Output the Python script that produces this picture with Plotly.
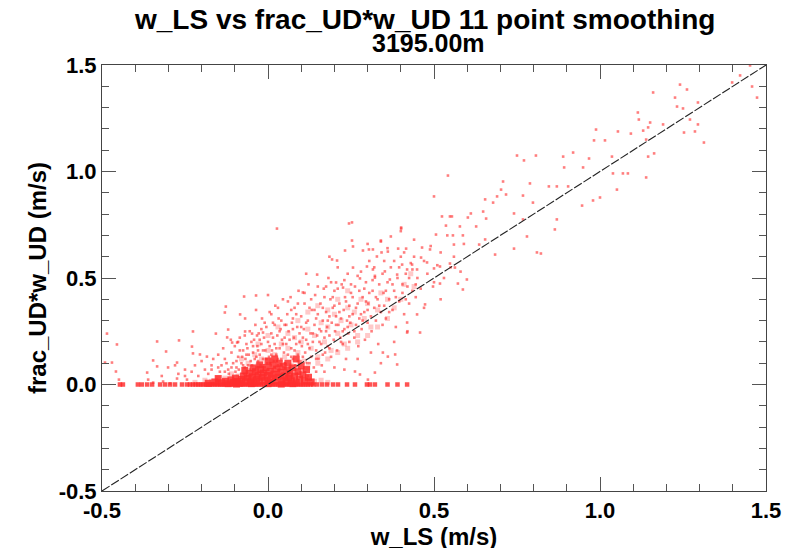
import plotly.graph_objects as go

# ---------------- data ----------------
# points lying on w_UD*frac_UD = 0 (horizontal band)
band_x = [-0.446, -0.437, -0.392, -0.380, -0.364, -0.349, -0.325, -0.310, -0.295, -0.280,
          -0.259, -0.244, -0.235, -0.226, -0.218, -0.210, -0.203, -0.196, -0.188, -0.181,
          -0.174, -0.167, -0.160, -0.153, -0.146, -0.139, -0.132, -0.125, -0.118, -0.111,
          -0.104, -0.097, -0.090, -0.083, -0.076, -0.069, -0.062, -0.055, -0.048, -0.041,
          -0.034, -0.027, -0.020, -0.013, -0.006, 0.001, 0.008, 0.015, 0.022, 0.029,
          0.036, 0.043, 0.050, 0.057, 0.064, 0.071, 0.078, 0.085, 0.092, 0.099,
          0.106, 0.113, 0.120, 0.128, 0.136, 0.148, 0.163, 0.178, 0.196, 0.211,
          0.238, 0.262, 0.298, 0.307, 0.322, 0.360, 0.390, 0.419]

# saturated core just above zero
core_pts = [(-0.14, 0.008), (-0.128, 0.015), (-0.12, 0.004), (-0.112, 0.022), (-0.105, 0.010),
            (-0.098, 0.030), (-0.092, 0.014), (-0.086, 0.006), (-0.080, 0.024), (-0.074, 0.040),
            (-0.068, 0.012), (-0.062, 0.030), (-0.057, 0.052), (-0.052, 0.018), (-0.047, 0.036),
            (-0.042, 0.008), (-0.038, 0.060), (-0.034, 0.026), (-0.030, 0.044), (-0.026, 0.014),
            (-0.022, 0.070), (-0.018, 0.034), (-0.014, 0.054), (-0.010, 0.020), (-0.006, 0.080),
            (-0.002, 0.042), (0.002, 0.010), (0.006, 0.062), (0.010, 0.030), (0.014, 0.090),
            (0.018, 0.048), (0.022, 0.016), (0.026, 0.072), (0.030, 0.036), (0.034, 0.100),
            (0.038, 0.056), (0.042, 0.022), (0.046, 0.084), (0.050, 0.040), (0.054, 0.012),
            (0.058, 0.066), (0.062, 0.030), (0.066, 0.050), (0.070, 0.018), (0.075, 0.078),
            (0.080, 0.040), (0.085, 0.010), (0.090, 0.060), (0.095, 0.026), (0.100, 0.088),
            (0.105, 0.046), (0.110, 0.016), (0.116, 0.070), (0.122, 0.034), (0.130, 0.012),
            (-0.160, 0.012), (-0.180, 0.006), (-0.150, 0.028), (-0.070, 0.066), (-0.045, 0.078),
            (-0.025, 0.092), (0.000, 0.110), (0.020, 0.120), (0.060, 0.100), (0.085, 0.120),
            (-0.050, 0.004), (0.000, 0.004), (0.040, 0.002), (0.075, 0.004), (-0.095, 0.002)]

# moderately dense part of the cloud
dense_pts = [
    (-0.13, 0.03), (-0.11, 0.05), (-0.09, 0.04), (-0.07, 0.07), (-0.05, 0.05), (-0.03, 0.09),
    (-0.01, 0.06), (0.01, 0.11), (0.03, 0.08), (0.05, 0.13), (0.07, 0.09), (0.09, 0.15),
    (0.11, 0.11), (0.13, 0.17), (0.15, 0.13), (0.17, 0.20), (0.19, 0.16), (0.21, 0.24),
    (0.23, 0.19), (0.25, 0.28), (0.27, 0.23), (0.29, 0.31), (0.31, 0.27), (0.33, 0.35),
    (-0.08, 0.12), (-0.06, 0.10), (-0.04, 0.14), (-0.02, 0.12), (0.0, 0.16), (0.02, 0.14),
    (0.04, 0.19), (0.06, 0.17), (0.08, 0.22), (0.10, 0.20), (0.12, 0.26), (0.14, 0.23),
    (0.16, 0.29), (0.18, 0.27), (0.20, 0.33), (0.22, 0.30), (0.24, 0.36), (0.26, 0.34),
    (0.28, 0.40), (0.30, 0.38), (-0.03, 0.19), (0.0, 0.23), (0.03, 0.27), (0.06, 0.24),
    (0.09, 0.30), (0.12, 0.34), (0.15, 0.37), (0.18, 0.35), (0.21, 0.40), (0.24, 0.44),
    (0.06, 0.06), (0.09, 0.08), (0.12, 0.08), (0.15, 0.10), (0.18, 0.12), (0.21, 0.15),
    (0.24, 0.17), (0.27, 0.20), (0.30, 0.23), (0.33, 0.27), (0.36, 0.31), (0.38, 0.36),
    (0.40, 0.40), (0.36, 0.40), (0.34, 0.43), (0.41, 0.47), (0.44, 0.46), (0.43, 0.52),
    (-0.22, 0.01), (-0.19, 0.02), (-0.17, 0.015), (-0.15, 0.03), (0.12, 0.025), (0.14, 0.015),
    (0.16, 0.02), (0.18, 0.01),
]

# scattered cloud of points (w_LS, frac_UD*w_UD)
cloud_pts = [
    (-0.14, 0.09), (-0.13, 0.12), (-0.12, 0.07), (-0.11, 0.15), (-0.105, 0.10), (-0.10, 0.18),
    (-0.095, 0.08), (-0.09, 0.13), (-0.085, 0.22), (-0.08, 0.10), (-0.075, 0.16), (-0.07, 0.08),
    (-0.068, 0.12), (-0.065, 0.19), (-0.06, 0.09), (-0.058, 0.14), (-0.055, 0.25), (-0.052, 0.11),
    (-0.15, 0.14), (-0.145, 0.06), (-0.135, 0.17), (-0.125, 0.10), (-0.118, 0.05), (-0.112, 0.21),
    (-0.098, 0.06), (-0.088, 0.07), (-0.078, 0.13), (-0.072, 0.05), (-0.062, 0.17), (-0.17, 0.09),
    (-0.19, 0.07), (-0.20, 0.11), (-0.18, 0.05), (-0.21, 0.04), (-0.165, 0.12),
    (-0.048, 0.09), (-0.045, 0.15), (-0.042, 0.21), (-0.04, 0.12), (-0.038, 0.28), (-0.035, 0.08),
    (-0.032, 0.18), (-0.03, 0.11), (-0.028, 0.24), (-0.025, 0.14), (-0.022, 0.09), (-0.02, 0.19),
    (-0.018, 0.31), (-0.015, 0.12), (-0.012, 0.22), (-0.01, 0.08), (-0.008, 0.16), (-0.005, 0.27),
    (-0.002, 0.10), (0.0, 0.20), (0.003, 0.13), (0.005, 0.34), (0.008, 0.09), (0.01, 0.24),
    (0.012, 0.16), (0.015, 0.29), (0.018, 0.11), (0.02, 0.19), (0.022, 0.37), (0.025, 0.14),
    (0.028, 0.23), (0.03, 0.09), (0.032, 0.31), (0.035, 0.17), (0.038, 0.26), (0.04, 0.12),
    (0.042, 0.21), (0.045, 0.40), (0.048, 0.15), (0.05, 0.28), (-0.044, 0.06), (-0.026, 0.06),
    (-0.006, 0.06), (0.014, 0.07), (0.034, 0.07), (0.046, 0.08), (-0.036, 0.35), (0.0, 0.42),
    (-0.02, 0.26),
    (0.052, 0.10), (0.055, 0.19), (0.058, 0.33), (0.06, 0.14), (0.062, 0.25), (0.065, 0.08),
    (0.068, 0.41), (0.07, 0.17), (0.072, 0.29), (0.075, 0.12), (0.078, 0.22), (0.08, 0.36),
    (0.082, 0.09), (0.085, 0.19), (0.088, 0.27), (0.09, 0.14), (0.092, 0.44), (0.095, 0.24),
    (0.098, 0.11), (0.10, 0.32), (0.102, 0.18), (0.105, 0.07), (0.108, 0.26), (0.11, 0.38),
    (0.112, 0.15), (0.115, 0.21), (0.118, 0.10), (0.12, 0.30), (0.122, 0.47), (0.125, 0.17),
    (0.128, 0.24), (0.13, 0.13), (0.132, 0.35), (0.135, 0.20), (0.138, 0.08), (0.14, 0.28),
    (0.142, 0.42), (0.145, 0.16), (0.148, 0.23), (0.15, 0.33), (0.06, 0.05), (0.09, 0.05),
    (0.12, 0.04), (0.145, 0.06), (0.075, 0.31), (0.115, 0.52),
    (0.152, 0.12), (0.155, 0.26), (0.158, 0.38), (0.16, 0.19), (0.162, 0.09), (0.165, 0.30),
    (0.168, 0.45), (0.17, 0.22), (0.172, 0.15), (0.175, 0.34), (0.178, 0.27), (0.18, 0.18),
    (0.182, 0.50), (0.185, 0.23), (0.188, 0.40), (0.19, 0.13), (0.192, 0.29), (0.195, 0.36),
    (0.198, 0.21), (0.20, 0.44), (0.202, 0.25), (0.205, 0.32), (0.208, 0.16), (0.21, 0.55),
    (0.212, 0.28), (0.215, 0.38), (0.218, 0.22), (0.22, 0.31), (0.222, 0.47), (0.225, 0.19),
    (0.228, 0.35), (0.23, 0.26), (0.232, 0.41), (0.235, 0.12), (0.238, 0.30), (0.24, 0.52),
    (0.242, 0.24), (0.245, 0.37), (0.248, 0.29), (0.25, 0.43), (0.17, 0.06), (0.20, 0.08),
    (0.23, 0.07), (0.185, 0.60), (0.245, 0.20),
    (0.255, 0.33), (0.26, 0.22), (0.262, 0.46), (0.265, 0.28), (0.27, 0.38), (0.272, 0.18),
    (0.275, 0.31), (0.28, 0.53), (0.282, 0.26), (0.285, 0.41), (0.29, 0.34), (0.292, 0.21),
    (0.295, 0.48), (0.30, 0.29), (0.302, 0.38), (0.305, 0.58), (0.31, 0.32), (0.312, 0.25),
    (0.315, 0.44), (0.32, 0.36), (0.322, 0.51), (0.325, 0.30), (0.33, 0.40), (0.332, 0.19),
    (0.335, 0.47), (0.34, 0.34), (0.342, 0.62), (0.345, 0.28), (0.348, 0.43), (0.35, 0.37),
    (0.27, 0.12), (0.31, 0.15), (0.34, 0.10), (0.30, 0.66),
    (0.355, 0.31), (0.36, 0.48), (0.365, 0.40), (0.37, 0.55), (0.375, 0.35), (0.38, 0.44),
    (0.385, 0.27), (0.39, 0.50), (0.395, 0.39), (0.40, 0.60), (0.405, 0.43), (0.41, 0.33),
    (0.415, 0.52), (0.42, 0.46), (0.425, 0.38), (0.43, 0.57), (0.435, 0.44), (0.44, 0.68),
    (0.445, 0.41), (0.45, 0.50), (0.38, 0.20), (0.42, 0.25), (0.40, 0.72), (0.36, 0.64),
    (0.46, 0.45), (0.47, 0.58), (0.48, 0.52), (0.49, 0.65), (0.50, 0.48), (0.51, 0.56),
    (0.52, 0.62), (0.53, 0.50), (0.54, 0.70), (0.55, 0.55), (0.56, 0.60), (0.58, 0.53),
    (0.59, 0.66), (0.47, 0.36), (0.52, 0.40),
]

# further cloud points filling the speckled region
cloud2_pts = [
    (-0.095, 0.11), (-0.085, 0.16), (-0.075, 0.09), (-0.065, 0.14), (-0.055, 0.07), (-0.045, 0.18),
    (-0.035, 0.13), (-0.025, 0.21), (-0.015, 0.16), (-0.005, 0.12), (-0.09, 0.20), (-0.07, 0.23),
    (-0.05, 0.20), (-0.03, 0.16), (-0.01, 0.29), (-0.11, 0.08), (-0.13, 0.06), (-0.15, 0.08),
    (-0.17, 0.07), (-0.23, 0.06), (-0.25, 0.04), (-0.27, 0.05), (-0.28, 0.09), (-0.32, 0.04),
    (-0.22, 0.09),
    (0.005, 0.18), (0.015, 0.22), (0.025, 0.17), (0.035, 0.25), (0.045, 0.19), (0.055, 0.28),
    (0.065, 0.21), (0.075, 0.26), (0.085, 0.33), (0.095, 0.20), (0.01, 0.33), (0.03, 0.36),
    (0.05, 0.22), (0.07, 0.35), (0.09, 0.38), (0.02, 0.28), (0.04, 0.30), (0.06, 0.39),
    (0.08, 0.16), (0.10, 0.27), (0.01, 0.14), (0.03, 0.12), (0.05, 0.10), (0.07, 0.13),
    (0.09, 0.11),
    (0.105, 0.22), (0.115, 0.29), (0.125, 0.36), (0.135, 0.24), (0.145, 0.31), (0.155, 0.20),
    (0.165, 0.36), (0.175, 0.25), (0.185, 0.32), (0.195, 0.41), (0.11, 0.43), (0.13, 0.40),
    (0.15, 0.46), (0.17, 0.41), (0.19, 0.48), (0.105, 0.13), (0.125, 0.10), (0.145, 0.12),
    (0.165, 0.14), (0.185, 0.17), (0.12, 0.19), (0.14, 0.35), (0.16, 0.25), (0.18, 0.30),
    (0.20, 0.37),
    (0.205, 0.28), (0.215, 0.34), (0.225, 0.25), (0.235, 0.39), (0.245, 0.32), (0.255, 0.41),
    (0.265, 0.36), (0.275, 0.44), (0.285, 0.30), (0.295, 0.39), (0.21, 0.45), (0.23, 0.49),
    (0.25, 0.47), (0.27, 0.51), (0.29, 0.45), (0.22, 0.20), (0.24, 0.27), (0.26, 0.25),
    (0.28, 0.33), (0.30, 0.35),
    (0.305, 0.43), (0.315, 0.49), (0.325, 0.41), (0.335, 0.37), (0.345, 0.52), (0.355, 0.44),
    (0.365, 0.34), (0.375, 0.47), (0.385, 0.41), (0.395, 0.55), (0.405, 0.47), (0.415, 0.40),
    (0.425, 0.50), (0.435, 0.54), (0.445, 0.47), (0.32, 0.55), (0.35, 0.58), (0.38, 0.58),
    (0.41, 0.62), (0.44, 0.60),
]

# sparse outliers
sparse_pts = [
    (1.452, 1.498), (1.422, 1.451), (1.398, 1.418), (1.458, 1.399), (1.473, 1.347), (1.241, 1.408),
    (1.262, 1.385), (1.160, 1.371), (1.226, 1.347), (1.232, 1.305), (1.250, 1.296), (1.295, 1.324),
    (1.114, 1.277), (1.117, 1.244), (1.151, 1.230), (1.130, 1.192), (1.145, 1.207), (1.271, 1.244),
    (1.253, 1.183), (1.286, 1.188), (1.295, 1.221), (1.313, 1.136), (1.190, 1.221), (1.054, 1.188),
    (1.093, 1.178), (0.988, 1.197), (0.982, 1.146), (1.015, 1.146), (1.139, 1.150), (1.163, 1.085),
    (1.145, 1.070), (0.919, 1.089), (0.889, 1.070), (0.967, 1.061), (0.807, 1.075), (0.750, 1.075),
    (0.771, 1.052), (0.892, 1.019), (0.949, 1.019), (1.036, 1.070), (1.039, 0.991), (1.069, 0.991),
    (1.084, 0.991), (1.051, 0.915), (1.139, 0.972), (1.000, 0.878), (0.979, 0.864), (0.946, 0.840),
    (0.846, 0.930), (0.870, 0.930), (0.904, 0.930), (0.870, 0.775), (0.864, 0.728), (0.810, 0.620),
    (0.822, 0.615), (0.708, 0.953), (0.702, 0.915), (0.717, 0.892), (0.789, 0.944), (0.768, 0.887),
    (0.798, 0.854), (0.542, 0.981), (0.500, 0.883), (0.654, 0.869), (0.690, 0.883), (0.678, 0.854),
    (0.648, 0.812), (0.611, 0.803), (0.602, 0.784), (0.548, 0.789), (0.524, 0.789), (0.578, 0.742),
    (0.627, 0.742), (0.657, 0.779), (0.741, 0.803), (0.768, 0.775), (0.780, 0.695), (0.741, 0.638),
    (0.684, 0.610), (0.654, 0.681), (0.636, 0.657), (0.587, 0.700), (0.560, 0.657), (0.536, 0.746),
    (0.506, 0.704), (0.488, 0.634), (0.464, 0.643), (0.461, 0.596), (0.479, 0.573), (0.500, 0.545),
    (0.518, 0.554), (0.548, 0.568), (0.563, 0.549), (0.599, 0.493), (0.587, 0.446), (0.572, 0.474),
    (0.518, 0.474), (0.497, 0.460), (0.401, 0.737), (0.370, 0.695), (0.340, 0.671), (0.316, 0.634),
    (0.286, 0.629), (0.256, 0.549), (0.253, 0.761), (0.027, 0.732), (0.244, 0.756), (0.401, 0.732),
    (0.554, 0.789), (0.253, 0.676), (0.232, 0.629), (0.256, 0.648), (0.304, 0.634), (0.340, 0.676),
    (0.361, 0.624), (0.392, 0.638), (0.416, 0.638), (0.193, 0.587), (0.208, 0.582), (0.328, 0.601),
    (0.148, 0.516), (0.205, 0.479), (0.277, 0.498), (0.298, 0.554), (0.316, 0.540), (0.322, 0.502),
    (0.352, 0.531), (0.367, 0.493), (0.389, 0.516), (0.404, 0.563), (0.419, 0.540), (0.434, 0.563),
    (0.449, 0.540), (0.557, 0.700), (0.175, 0.460), (0.226, 0.455), (0.105, 0.432),
    (0.346, 0.150), (0.361, 0.131), (0.389, 0.094), (0.301, 0.023), (0.322, 0.056), (0.383, 0.141),
    (0.419, 0.244), (0.449, 0.329), (0.473, 0.376), (0.419, 0.291), (0.458, 0.244), (0.277, 0.047),
    (0.262, 0.061),
    (-0.072, 0.413), (-0.036, 0.418), (-0.127, 0.366), (-0.130, 0.338), (-0.084, 0.329),
    (-0.069, 0.310), (-0.485, 0.239), (-0.455, 0.188), (-0.334, 0.202), (-0.268, 0.207),
    (-0.226, 0.249), (-0.157, 0.239), (-0.120, 0.258), (-0.123, 0.221), (-0.069, 0.249),
    (-0.048, 0.239), (-0.033, 0.230), (-0.015, 0.244), (-0.108, 0.197), (-0.093, 0.197),
    (-0.307, 0.155), (-0.229, 0.178), (-0.226, 0.146), (-0.205, 0.141), (-0.184, 0.131),
    (-0.346, 0.113), (-0.274, 0.103), (-0.250, 0.070), (-0.301, 0.080), (-0.334, 0.085),
    (-0.364, 0.056), (-0.361, 0.023), (-0.449, 0.023), (-0.458, 0.061), (-0.470, 0.103),
    (-0.491, 0.103), (-0.346, 0.009), (-0.316, 0.014), (-0.295, 0.005), (-0.274, 0.028),
    (-0.244, 0.023),
    (1.56, 1.62), (1.53, 1.56), (1.58, 1.58), (1.539, -0.413), (1.069, -0.69), (0.979, -0.507),
]

# 1:1 reference line
ref_x = [-0.5, 1.5]
ref_y = [-0.5, 1.5]

x_ticks = [-0.5, 0.0, 0.5, 1.0, 1.5]
y_ticks = [-0.5, 0.0, 0.5, 1.0, 1.5]
x_tick_text = ["-0.5", "0.0", "0.5", "1.0", "1.5"]
y_tick_text = ["-0.5", "0.0", "0.5", "1.0", "1.5"]

title_line1 = "w_LS vs frac_UD*w_UD 11 point smoothing"
title_line2 = "3195.00m"

FONT = "Liberation Sans, Arial, sans-serif"
NARROW = "Liberation Sans Narrow, Arial Narrow, Liberation Sans, sans-serif"

# ---------------- figure ----------------
fig = go.Figure()

fig.add_trace(go.Scatter(
    x=[p[0] for p in dense_pts], y=[p[1] for p in dense_pts], mode="markers",
    marker=dict(symbol="square", size=5, color="rgba(255,60,60,0.28)", line=dict(width=0)),
    showlegend=False, hoverinfo="skip"))

all_small = cloud_pts + cloud2_pts + sparse_pts
fig.add_trace(go.Scatter(
    x=[p[0] for p in all_small], y=[p[1] for p in all_small],
    mode="markers", cliponaxis=False,
    marker=dict(symbol="square", size=2.6, color="rgba(255,40,40,0.6)", line=dict(width=0)),
    showlegend=False, hoverinfo="skip"))

fig.add_trace(go.Scatter(
    x=band_x, y=[0.0] * len(band_x), mode="markers",
    marker=dict(symbol="square", size=4.5, color="rgba(255,40,40,0.8)", line=dict(width=0)),
    showlegend=False, hoverinfo="skip"))

fig.add_trace(go.Scatter(
    x=[p[0] for p in core_pts], y=[p[1] for p in core_pts], mode="markers",
    marker=dict(symbol="square", size=7, color="rgba(255,45,45,0.85)", line=dict(width=0)),
    showlegend=False, hoverinfo="skip"))

fig.add_trace(go.Scatter(
    x=ref_x, y=ref_y, mode="lines",
    line=dict(color="#222222", width=1.1, dash="9px,2px"),
    showlegend=False, hoverinfo="skip"))

axis_common = dict(
    showgrid=False, zeroline=False, showline=True, linecolor="#444444", linewidth=1,
    mirror="allticks", ticks="inside", ticklen=14, tickwidth=1, tickcolor="#555555",
    automargin=False,
    tickfont=dict(family=FONT, size=22, color="black", weight="bold"),
    minor=dict(ticks="inside", ticklen=7, dtick=0.1, tickcolor="#555555", tickwidth=1, showgrid=False),
)

fig.update_xaxes(
    range=[-0.5, 1.5], tickvals=x_ticks, ticktext=x_tick_text,
    title=dict(text="w_LS (m/s)", standoff=3,
               font=dict(family=FONT, size=24, color="black", weight="bold")),
    **axis_common)
fig.update_yaxes(
    range=[-0.5, 1.5], tickvals=y_ticks, ticktext=y_tick_text,
    title=dict(text="frac_UD*w_UD (m/s)", standoff=5,
               font=dict(family=FONT, size=24, color="black", weight="bold")),
    **axis_common)

fig.add_annotation(text=title_line1, xref="paper", yref="paper", x=0.486, y=1 + 45 / 426,
                   xanchor="center", yanchor="middle", showarrow=False, borderpad=0,
                   font=dict(family=FONT, size=28, color="black", weight="bold"))
fig.add_annotation(text=title_line2, xref="paper", yref="paper", x=0.491, y=1 + 22 / 426,
                   xanchor="center", yanchor="middle", showarrow=False, borderpad=0,
                   font=dict(family=NARROW, size=25, color="black", weight="bold"))

fig.update_layout(
    width=793, height=548,
    margin=dict(l=94, r=35, t=57, b=65, autoexpand=False),
    paper_bgcolor="white", plot_bgcolor="white",
)

fig.write_html("out.html")
